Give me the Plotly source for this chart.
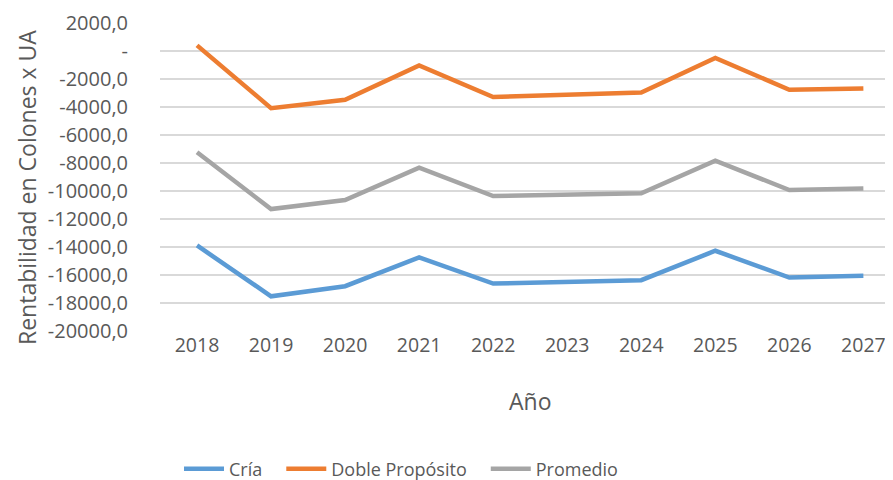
import plotly.graph_objects as go

years = ["2018", "2019", "2020", "2021", "2022", "2023", "2024", "2025", "2026", "2027"]
cria = [-13890, -17520, -16800, -14750, -16610, -16530, -16370, -14270, -16180, -16060]
doble = [400, -4080, -3490, -1030, -3290, -3130, -2960, -500, -2770, -2680]
promedio = [-7230, -11290, -10640, -8330, -10360, -10300, -10160, -7830, -9930, -9830]

y_ticks = list(range(-20000, 2001, 2000))
y_ticktext = ["-" if v == 0 else f"{v},0" for v in y_ticks]

series = [
    ("Cría", cria, "#5B9BD5"),
    ("Doble Propósito", doble, "#ED7D31"),
    ("Promedio", promedio, "#A5A5A5"),
]

x_idx = list(range(len(years)))
fig = go.Figure()
for name, vals, color in series:
    fig.add_trace(go.Scatter(
        x=x_idx, y=vals, name=name + "\u00a0\u00a0\u00a0", mode="lines",
        line=dict(color=color, width=4.5),
    ))

font_family = "Open Sans"
txt = "#595959"

# page is offset by the 8px default body margin; figure coords = page - 8
W, H = 885, 472
L, T, B = 152, 15, 149
PH = H - T - B
PB = H - B  # plot bottom in figure px

fig.update_layout(
    width=W, height=H,
    margin=dict(l=L, r=0, t=T, b=B, autoexpand=False),
    paper_bgcolor="white", plot_bgcolor="white",
    font=dict(family=font_family, color=txt, size=18),
    showlegend=True,
    legend=dict(
        orientation="h", x=(171 - L) / (W - L), xanchor="left",
        y=-(461 - PB) / PH, yanchor="middle",
        font=dict(size=18, color=txt), itemwidth=40, tracegroupgap=0,
    ),
    xaxis=dict(
        tickmode="array", tickvals=x_idx, ticktext=years, automargin=False,
        range=[-0.5, 9.40], showgrid=False, zeroline=False, showline=False,
        ticks="", tickfont=dict(size=19.5, color=txt),
    ),
    yaxis=dict(
        tickmode="array", tickvals=y_ticks, ticktext=y_ticktext, automargin=False,
        range=[-20000, 2000], showgrid=True, gridcolor="#D9D9D9", gridwidth=1.5,
        zeroline=False, showline=False, ticks="",
        tickfont=dict(size=20, color=txt), ticklabelstandoff=31,
    ),
    annotations=[
        dict(
            text="Rentabilidad en Colones x UA", textangle=-90,
            xref="paper", yref="paper", x=(19 - L) / (W - L), y=(PB - 180) / PH,
            xanchor="center", yanchor="middle", showarrow=False,
            font=dict(size=23, color=txt),
        ),
        dict(
            text="Año", xref="paper", yref="paper",
            x=(522 - L) / (W - L), y=-(393 - PB) / PH,
            xanchor="center", yanchor="middle", showarrow=False,
            font=dict(size=23, color=txt),
        ),
    ],
)

fig.write_html("out.html")
